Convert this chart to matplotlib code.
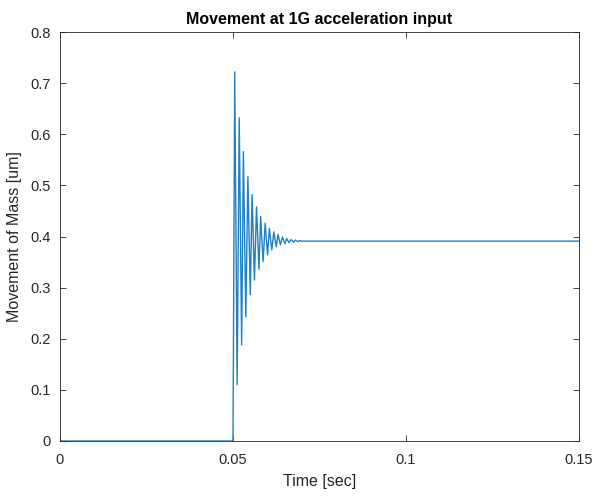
import matplotlib
matplotlib.use("Agg")
import matplotlib.pyplot as plt
import numpy as np

# extrema of the response (time in s, movement in um)
time_pts = [0.0, 0.0500, 0.0505, 0.0512, 0.0518, 0.0525, 0.0530, 0.0537, 0.0543,
            0.0550, 0.0555, 0.0562, 0.0568, 0.0575, 0.0580, 0.0587, 0.0593,
            0.0600, 0.0605, 0.0612, 0.0618, 0.0625, 0.0630, 0.0637, 0.0643,
            0.0650, 0.0655, 0.0662, 0.0668, 0.0675, 0.0680, 0.0687, 0.0693,
            0.0700, 0.15]
move_pts = [0.0, 0.0, 0.722, 0.110, 0.632, 0.188, 0.566, 0.243, 0.517,
            0.286, 0.482, 0.315, 0.458, 0.336, 0.439, 0.351, 0.426,
            0.364, 0.416, 0.374, 0.409, 0.380, 0.404, 0.384, 0.399,
            0.386, 0.396, 0.388, 0.394, 0.389, 0.393, 0.390, 0.392,
            0.391, 0.391]

xticks = [0, 0.05, 0.1, 0.15]
xtick_labels = ["0", "0.05", "0.1", "0.15"]
yticks = [0, 0.1, 0.2, 0.3, 0.4, 0.5, 0.6, 0.7, 0.8]
ytick_labels = ["0", "0.1", "0.2", "0.3", "0.4", "0.5", "0.6", "0.7", "0.8"]

plt.rcParams["font.family"] = ["Liberation Sans", "DejaVu Sans"]
edge = "#262626"

fig = plt.figure(figsize=(5.96, 4.97), dpi=100)
ax = fig.add_axes([60 / 596, 56 / 497, 519 / 596, 409 / 497])

ax.plot(time_pts, move_pts, color="#1f80c4", lw=1.0)

ax.set_xlim(0, 0.15)
ax.set_ylim(0, 0.8)
ax.set_xticks(xticks)
ax.set_xticklabels(xtick_labels)
ax.set_yticks(yticks)
ax.set_yticklabels(ytick_labels)
ax.tick_params(direction="in", top=True, right=True, length=4, width=0.6,
               colors=edge, labelsize=10.5)
ax.tick_params(axis="x", pad=9)
ax.tick_params(axis="y", pad=7)
for s in ax.spines.values():
    s.set_color(edge)
    s.set_linewidth(0.6)

ax.set_xlabel("Time [sec]", fontsize=11.5, color=edge, labelpad=5)
ax.set_ylabel("Movement of Mass [um]", fontsize=11.5, color=edge, labelpad=6)
ax.set_title("Movement at 1G acceleration input", fontsize=11.5,
             fontweight="bold", color="black", pad=6)

fig.savefig("out.png", dpi=100)
